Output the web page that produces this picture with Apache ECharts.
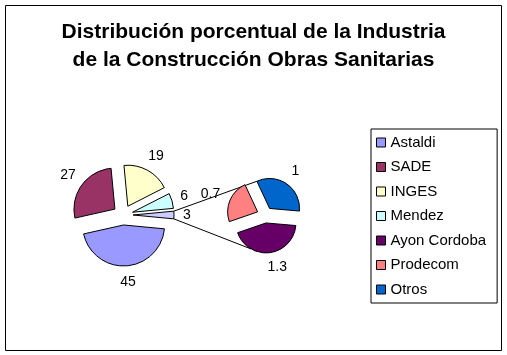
<!DOCTYPE html>
<html>
<head>
<meta charset="utf-8">
<script src="https://cdn.jsdelivr.net/npm/echarts@6/dist/echarts.min.js"></script>
<style>
html,body{margin:0;padding:0;background:#fff;}
#chart{width:507px;height:355px;}
</style>
</head>
<body>
<div id="chart"></div>
<script>
// ---- data ----
const titleLines = ['Distribución porcentual de la Industria', 'de la Construcción Obras Sanitarias'];
const mainNames = ['Astaldi', 'SADE', 'INGES', 'Mendez'];
const mainValues = [45, 27, 19, 6];
const secondNames = ['Ayon Cordoba', 'Prodecom', 'Otros'];
const secondValues = [1.3, 0.7, 1];
const legendNames = mainNames.concat(secondNames);

// ---- styles ----
const mainColors = ['#9999FF', '#993366', '#FFFFCC', '#CCFFFF'];
const otherColor = '#CCCCFF';
const secondColors = ['#660066', '#FF8080', '#0066CC'];
const FONT = 'Liberation Sans, Arial, sans-serif';

// ---- layout ----
const C1 = [123, 215], R1 = 41, OFF1 = 10;
const C2 = [265, 215], R2 = 30, OFF2 = 8;
const START2 = 355;
const CONN_BOTTOM_ANGLE = -120;

const otherValue = secondValues.reduce((a, b) => a + b, 0);
const mainTotal = mainValues.reduce((a, b) => a + b, 0) + otherValue;
const START1 = 360 - 180 * otherValue / mainTotal;

const rad = d => d * Math.PI / 180;
const pt = (c, r, a) => [c[0] + r * Math.cos(rad(a)), c[1] - r * Math.sin(rad(a))];

// connector lines computed from pie geometry
const halfOther = 180 * otherValue / mainTotal;
const otherTip = pt(C1, OFF1, 0);
const topStart = pt(otherTip, R1, halfOther);
const botStart = pt(otherTip, R1, -halfOther);
const lastShare = secondValues[secondValues.length - 1] / otherValue * 360;
const lastStartAngle = START2 - 360 + lastShare;
const lastMid = lastStartAngle - lastShare / 2;
const lastTip = pt(C2, OFF2, lastMid);
const topEnd = pt(lastTip, R2, lastStartAngle);
const firstShare = secondValues[0] / otherValue * 360;
const firstTip = pt(C2, OFF2, START2 - firstShare / 2);
const botEnd = pt(firstTip, R2, CONN_BOTTOM_ANGLE);

const mainData = mainNames.map((n, i) => ({
  name: n, value: mainValues[i], selected: true, itemStyle: { color: mainColors[i] }
}));
mainData.push({ name: 'Otros (grupo)', value: +otherValue.toFixed(2), selected: true, itemStyle: { color: otherColor } });

const secondData = secondNames.map((n, i) => ({
  name: n, value: secondValues[i], selected: true, itemStyle: { color: secondColors[i] }
}));

const pieBase = {
  type: 'pie',
  selectedMode: 'multiple',
  avoidLabelOverlap: false,
  clockwise: true,
  animation: false,
  emphasis: { disabled: true },
  itemStyle: { borderColor: '#000', borderWidth: 1 },
  label: {
    show: true, position: 'outside', formatter: '{c}',
    fontSize: 14, color: '#000', fontFamily: FONT
  }
};

const chart = echarts.init(document.getElementById('chart'), null, { renderer: 'canvas' });
chart.setOption({
  animation: false,
  backgroundColor: '#fff',
  title: {
    text: titleLines.join('\n'),
    left: 'center', top: 18, padding: 0,
    textStyle: { fontSize: 21, fontWeight: 'bold', lineHeight: 28, color: '#000', fontFamily: FONT }
  },
  legend: {
    data: legendNames,
    orient: 'vertical',
    left: 371, top: 129,
    padding: [6, 11, 6, 5],
    itemWidth: 9, itemHeight: 9, itemGap: 9.5,
    icon: 'rect',
    borderColor: '#000', borderWidth: 1,
    selectedMode: false,
    itemStyle: { borderColor: '#000', borderWidth: 1 },
    textStyle: { fontSize: 15, lineHeight: 15, color: '#000', fontFamily: FONT }
  },
  graphic: [
    { type: 'rect', z: 0, shape: { x: 5.5, y: 5.5, width: 496, height: 345 },
      style: { fill: null, stroke: '#000', lineWidth: 1 } },
    { type: 'line', z: 0, shape: { x1: topStart[0], y1: topStart[1], x2: topEnd[0], y2: topEnd[1] },
      style: { stroke: '#000', lineWidth: 1 } },
    { type: 'line', z: 0, shape: { x1: botStart[0], y1: botStart[1], x2: botEnd[0], y2: botEnd[1] },
      style: { stroke: '#000', lineWidth: 1 } }
  ],
  series: [
    Object.assign({}, pieBase, {
      name: 'principal',
      center: C1, radius: R1, selectedOffset: OFF1,
      startAngle: START1,
      label: Object.assign({}, pieBase.label, { distanceToLabelLine: -7 }),
      labelLine: { show: false, length: 16, length2: 0 },
      data: mainData
    }),
    Object.assign({}, pieBase, {
      name: 'secundario',
      center: C2, radius: R2, selectedOffset: OFF2,
      startAngle: START2,
      label: Object.assign({}, pieBase.label, { distanceToLabelLine: -4 }),
      labelLine: { show: false, length: 15, length2: 0 },
      data: secondData
    })
  ]
});
</script>
</body>
</html>
